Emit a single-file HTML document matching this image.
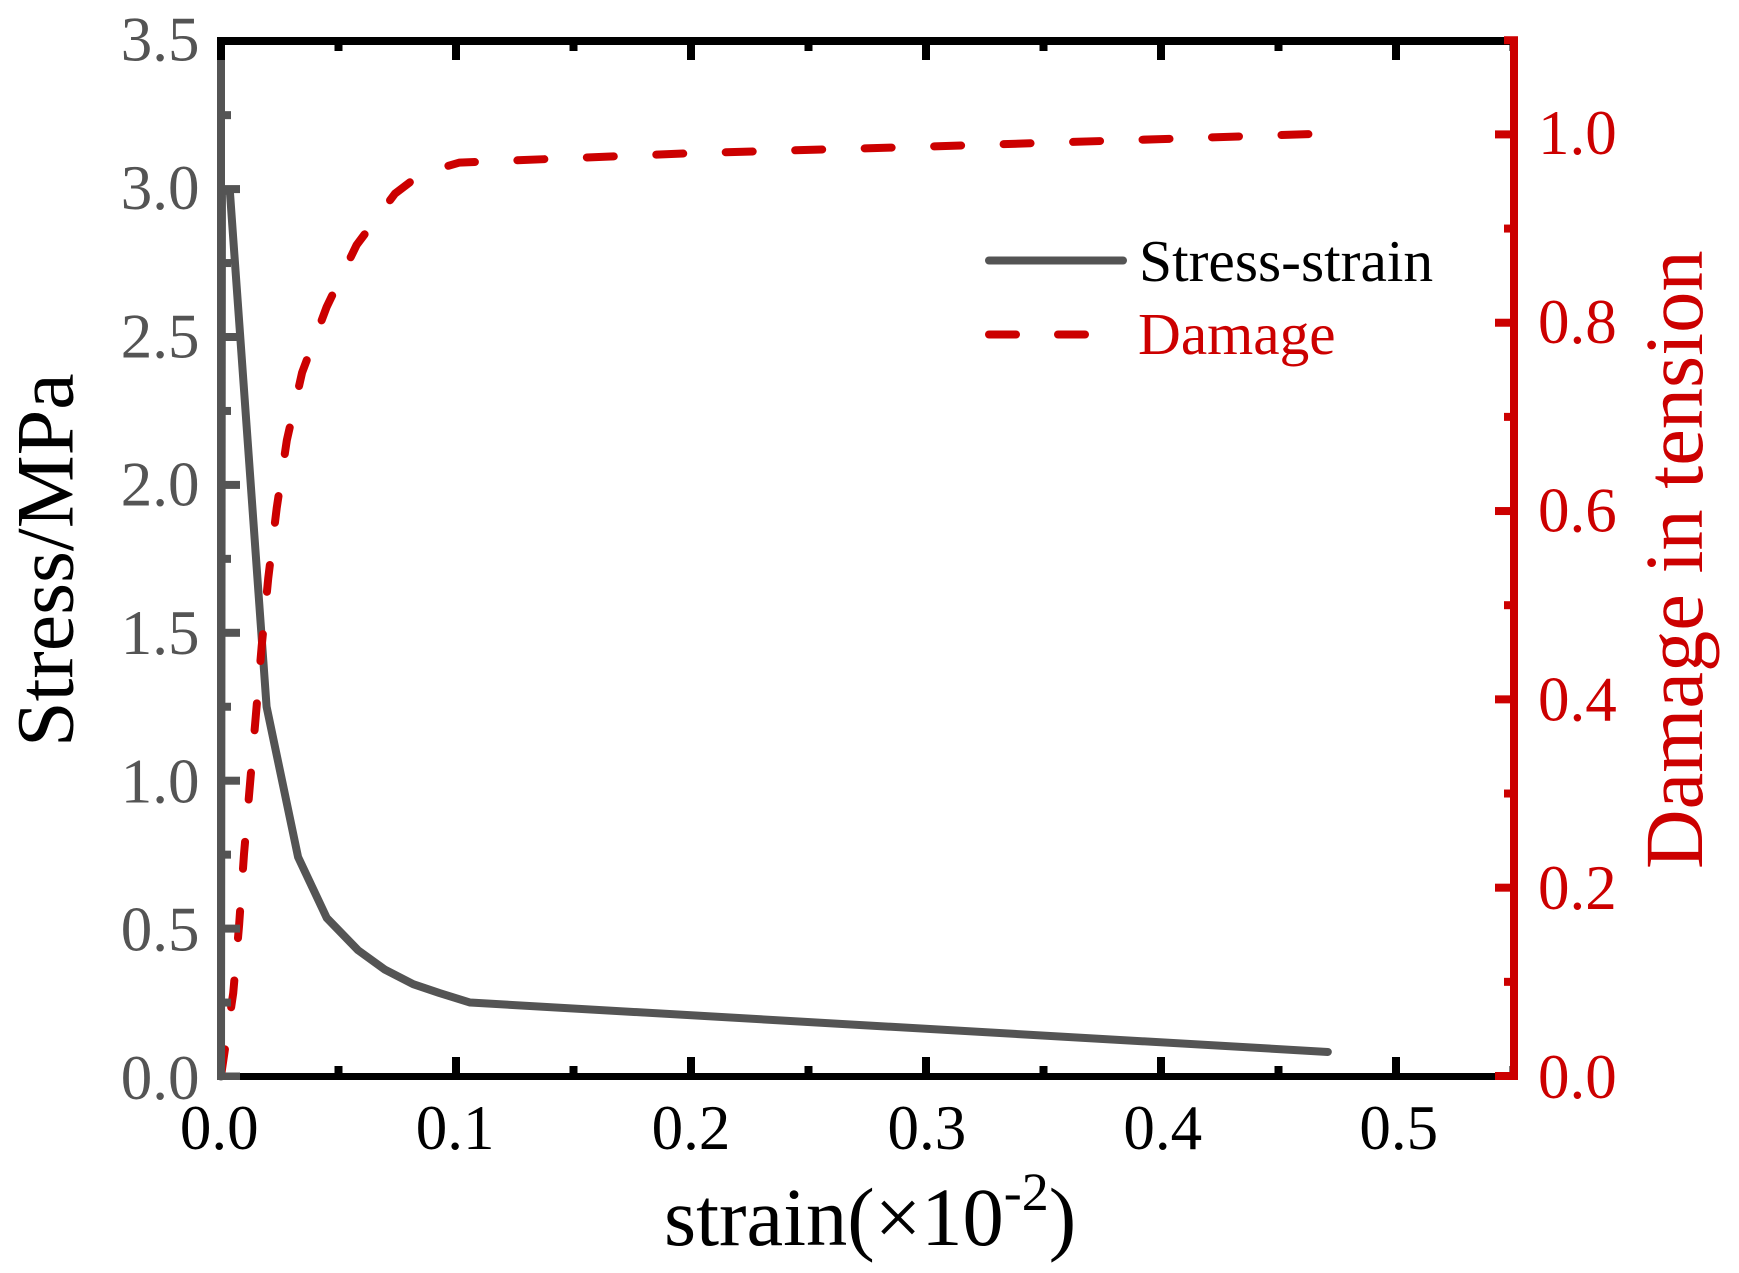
<!DOCTYPE html>
<html>
<head>
<meta charset="utf-8">
<title>Stress-strain and damage chart</title>
<style>
html,body{margin:0;padding:0;background:#fff;}
svg{display:block;}
text{font-family:"Liberation Serif",serif;}
</style>
</head>
<body>
<svg id="chart" xmlns="http://www.w3.org/2000/svg" width="1739" height="1273" viewBox="0 0 1739 1273">
<rect x="0" y="0" width="1739" height="1273" fill="#ffffff"/>
<g id="series"></g>
<g id="axes"></g>
<text x="664" y="1245" font-size="82.5" fill="#000000">strain(×10<tspan dy="-35" font-size="54">-2</tspan><tspan dy="35">)</tspan></text>
<text transform="translate(72.5,747) rotate(-90)" font-size="82" fill="#000000">Stress/MPa</text>
<text transform="translate(1702,869) rotate(-90)" font-size="82.5" fill="#cc0000">Damage in tension</text>
<g>
<line x1="989" y1="260.5" x2="1123" y2="260.5" stroke="#545454" stroke-width="8" stroke-linecap="round"/>
<text x="1139" y="281" font-size="59.5" fill="#000000">Stress-strain</text>
<line x1="989" y1="334.5" x2="1016" y2="334.5" stroke="#cc0000" stroke-width="8" stroke-linecap="round"/>
<line x1="1058" y1="334.5" x2="1085" y2="334.5" stroke="#cc0000" stroke-width="8" stroke-linecap="round"/>
<text x="1138" y="354" font-size="59.3" fill="#cc0000">Damage</text>
</g>
</svg>
<script>
// Chart data
var stressStrain = [0, 0.0004, 0.0038, 0.0194, 0.0328, 0.045, 0.0583, 0.0698, 0.0818, 0.093, 0.106, 0.471];
var stressValues = [0, 3.0, 2.99, 1.25, 0.742, 0.536, 0.427, 0.361, 0.312, 0.282, 0.25, 0.083];
var damageStrain = [0, 0.0052, 0.0077, 0.0098, 0.0123, 0.0148, 0.0173, 0.0201, 0.0237, 0.028, 0.0345, 0.045, 0.0577, 0.074, 0.085, 0.1013, 0.2, 0.3, 0.4, 0.471];
var damageValues = [0, 0.088, 0.16, 0.236, 0.309, 0.382, 0.456, 0.5286, 0.603, 0.675, 0.747, 0.817, 0.8825, 0.937, 0.958, 0.97, 0.98, 0.987, 0.995, 1.001];
var xTickLabels = ["0.0", "0.1", "0.2", "0.3", "0.4", "0.5"];
var leftTickLabels = ["0.0", "0.5", "1.0", "1.5", "2.0", "2.5", "3.0", "3.5"];
var rightTickLabels = ["0.0", "0.2", "0.4", "0.6", "0.8", "1.0"];

var NS = "http://www.w3.org/2000/svg";
var GRAY = "#545454", RED = "#cc0000", BLACK = "#000000";
var seriesLayer = document.getElementById("series");
var axesLayer = document.getElementById("axes");

function xScale(v) { return 221 + v * 2350; }
function yLeft(v) { return 1076.5 - v * 295.8; }
function yRight(v) { return 1076 - v * 941.6; }

function makeRect(x, y, w, h, fill) {
  var r = document.createElementNS(NS, "rect");
  r.setAttribute("x", x);
  r.setAttribute("y", y);
  r.setAttribute("width", w);
  r.setAttribute("height", h);
  r.setAttribute("fill", fill);
  axesLayer.appendChild(r);
  return r;
}
function makeLabel(str, x, y, anchor, fill) {
  var t = document.createElementNS(NS, "text");
  t.setAttribute("x", x);
  t.setAttribute("y", y);
  t.setAttribute("text-anchor", anchor);
  t.setAttribute("font-size", "63");
  t.setAttribute("fill", fill);
  t.textContent = str;
  axesLayer.appendChild(t);
  return t;
}
function pathFrom(xs, ys, yFn) {
  var d = "";
  for (var i = 0; i < xs.length; i++) {
    d += (i ? "L" : "M") + xScale(xs[i]).toFixed(2) + " " + yFn(ys[i]).toFixed(2);
  }
  return d;
}

// Series
var stressPath = document.createElementNS(NS, "path");


stressPath.setAttribute("d", pathFrom(stressStrain, stressValues, yLeft));
stressPath.setAttribute("fill", "none");
stressPath.setAttribute("stroke", GRAY);
stressPath.setAttribute("stroke-width", "8");
stressPath.setAttribute("stroke-linecap", "round");
stressPath.setAttribute("stroke-linejoin", "round");
seriesLayer.appendChild(stressPath);

var damagePath = document.createElementNS(NS, "path");


damagePath.setAttribute("d", pathFrom(damageStrain, damageValues, yRight));
damagePath.setAttribute("fill", "none");
damagePath.setAttribute("stroke", RED);
damagePath.setAttribute("stroke-width", "8");
damagePath.setAttribute("stroke-linecap", "round");
damagePath.setAttribute("stroke-linejoin", "round");
damagePath.setAttribute("stroke-dasharray", "27 42.5");
damagePath.setAttribute("stroke-dashoffset", "0");
seriesLayer.appendChild(damagePath);

// Top and bottom axes (black)
var bottomSpine = makeRect(217, 1073, 1301, 7, BLACK);


var topSpine = makeRect(217, 37, 1301, 8, BLACK);



for (var i = 0; i < xTickLabels.length * 2; i++) {
  var xv = i * 0.05;
  var major = i % 2 === 0;
  var len = major ? 23 : 14;
  var tb = makeRect(xScale(xv) - 4, 1080 - len, 8, len, BLACK);
  
  
  var tt = makeRect(xScale(xv) - 4, 37, 8, len, BLACK);
  
  
}
for (var i = 0; i < xTickLabels.length; i++) {
  var xval = parseFloat(xTickLabels[i]);
  var xl = makeLabel(xTickLabels[i], xScale(xval) - 1.8 + xval * 9, 1149, "middle", BLACK);
  
  
}

// Left axis (gray)
var leftSpine = makeRect(217, 60, 8, 1020, GRAY);


for (var i = 0; i < 14; i++) {
  var lv = i * 0.25;
  var lmajor = i % 2 === 0;
  var ly = yLeft(lv);
  var lt = makeRect(217, i === 0 ? 1072.5 : ly - 4, lmajor ? 23 : 14, i === 0 ? 7.5 : 8, GRAY);
  
  
}
for (var i = 0; i < leftTickLabels.length; i++) {
  var lval = parseFloat(leftTickLabels[i]);
  var ll = makeLabel(leftTickLabels[i], 199.5, yLeft(lval) + 19.5 + (3.5 - lval) * 0.85, "end", GRAY);
  
  
}

// Right axis (red)
for (var i = 0; i <= 11; i++) {
  var rv = i * 0.1;
  var rmajor = i % 2 === 0;
  var rx = rmajor ? 1495 : 1504;
  var rt = makeRect(rx, yRight(rv) - 4, 1518 - rx, 8, RED);
  
  
}
var rightSpine = makeRect(1510, 37, 8, 1043, RED);


for (var i = 0; i < rightTickLabels.length; i++) {
  var rval = parseFloat(rightTickLabels[i]);
  var rl = makeLabel(rightTickLabels[i], 1538, yRight(rval) + 19.6 + (1 - rval) * 2.4, "start", RED);
  
  
}
</script>
</body>
</html>
